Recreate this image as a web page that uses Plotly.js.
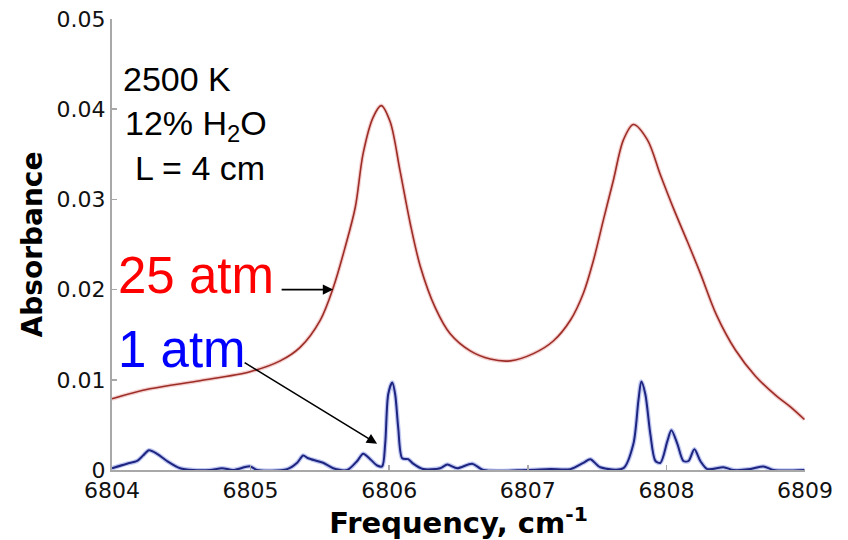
<!DOCTYPE html>
<html>
<head>
<meta charset="utf-8">
<script src="https://cdn.plot.ly/plotly-3.0.1.min.js"></script>
<style>html,body{margin:0;padding:0;background:#fff;}#chart{width:848px;height:540px;}</style>
</head>
<body>
<div id="chart"></div>
<script>
// 25 atm spectrum (frequency in cm^-1, absorbance)
const freq25 = [6804.000,6804.274,6804.635,6804.996,6805.213,6805.357,6805.502,6805.596,6805.682,6805.755,6805.812,6805.884,6805.942,6806.007,6806.079,6806.152,6806.224,6806.332,6806.440,6806.585,6806.729,6806.874,6807.040,6807.184,6807.307,6807.401,6807.473,6807.545,6807.617,6807.690,6807.762,6807.863,6807.957,6808.051,6808.152,6808.245,6808.361,6808.498,6808.643,6808.787,6808.895,6808.996];
const abs25 = [0.0079,0.0090,0.0099,0.0109,0.0121,0.0136,0.0166,0.0202,0.0247,0.0291,0.0351,0.0391,0.0404,0.0386,0.0331,0.0273,0.0226,0.0180,0.0151,0.0132,0.0123,0.0121,0.0129,0.0143,0.0166,0.0196,0.0232,0.0277,0.0321,0.0366,0.0383,0.0366,0.0327,0.0290,0.0253,0.0218,0.0172,0.0133,0.0104,0.0083,0.0070,0.0056];

// 1 atm spectrum
const freq1 = [6804.000,6804.108,6804.181,6804.224,6804.267,6804.325,6804.397,6804.491,6804.585,6804.708,6804.794,6804.874,6804.996,6805.047,6805.264,6805.336,6805.379,6805.415,6805.480,6805.523,6805.596,6805.697,6805.769,6805.812,6805.863,6805.913,6805.949,6805.971,6805.993,6806.022,6806.043,6806.065,6806.094,6806.137,6806.173,6806.245,6806.368,6806.419,6806.491,6806.599,6806.679,6806.996,6807.162,6807.307,6807.401,6807.451,6807.523,6807.690,6807.762,6807.798,6807.819,6807.848,6807.884,6807.921,6807.957,6808.007,6808.036,6808.079,6808.123,6808.159,6808.202,6808.245,6808.296,6808.412,6808.484,6808.606,6808.700,6808.773,6808.996];
const abs1 = [0.0002,0.0007,0.0010,0.0016,0.0022,0.0018,0.0010,0.0002,0.0000,0.0000,0.0002,0.0000,0.0004,0.0000,0.0001,0.0008,0.0016,0.0013,0.0010,0.0008,0.0002,0.0000,0.0010,0.0018,0.0012,0.0005,0.0004,0.0029,0.0084,0.0097,0.0084,0.0047,0.0013,0.0012,0.0007,0.0001,0.0002,0.0006,0.0002,0.0007,0.0000,0.0000,0.0001,0.0001,0.0008,0.0012,0.0003,0.0002,0.0029,0.0077,0.0098,0.0084,0.0040,0.0010,0.0008,0.0032,0.0044,0.0029,0.0010,0.0010,0.0023,0.0010,0.0001,0.0003,0.0000,0.0001,0.0004,0.0000,0.0000];

const xTicks = [6804,6805,6806,6807,6808,6809];
const xTickText = ['6804','6805','6806','6807','6808','6809'];
const yTicks = [0,0.01,0.02,0.03,0.04,0.05];
const yTickText = ['0','0.01','0.02','0.03','0.04','0.05'];

const conditionLines = ['2500 K','12% H<sub>2</sub>O','L = 4 cm'];
const label25 = '25 atm';
const label1 = '1 atm';
// arrows: [tail freq, tail abs, head freq, head abs]
const arrow25 = [6805.213,0.0200,6805.596,0.0200];
const arrow1 = [6804.946,0.0120,6805.913,0.0029];

const traces = [
  {x:freq25,y:abs25,mode:'lines',line:{color:'rgba(230,150,150,0.45)',width:4,shape:'spline',smoothing:0.9},hoverinfo:'skip',showlegend:false},
  {x:freq25,y:abs25,mode:'lines',line:{color:'#9c2d26',width:1.6,shape:'spline',smoothing:0.9},name:'25 atm',showlegend:false},
  {x:freq1,y:abs1,mode:'lines',line:{color:'rgba(130,145,230,0.5)',width:4.5,shape:'spline',smoothing:0.8},hoverinfo:'skip',showlegend:false},
  {x:freq1,y:abs1,mode:'lines',line:{color:'#1e2580',width:2,shape:'spline',smoothing:0.8},name:'1 atm',showlegend:false}
];

const txtFont = {family:'Liberation Sans, Arial, sans-serif',size:34,color:'#000'};
const annotations = [
  {xref:'paper',yref:'paper',x:0.013,y:0.867,xanchor:'left',yanchor:'middle',text:conditionLines[0],showarrow:false,font:txtFont},
  {xref:'paper',yref:'paper',x:0.016,y:0.763,xanchor:'left',yanchor:'middle',text:conditionLines[1],showarrow:false,font:txtFont},
  {xref:'paper',yref:'paper',x:0.030,y:0.670,xanchor:'left',yanchor:'middle',text:conditionLines[2],showarrow:false,font:txtFont},
  {xref:'paper',yref:'paper',x:0.006,y:0.431,xanchor:'left',yanchor:'middle',text:label25,showarrow:false,font:{family:'Liberation Sans, Arial, sans-serif',size:51,color:'#ff0000'}},
  {xref:'paper',yref:'paper',x:0.006,y:0.267,xanchor:'left',yanchor:'middle',text:label1,showarrow:false,font:{family:'Liberation Sans, Arial, sans-serif',size:51,color:'#0000ff'}},
  {xref:'x',yref:'y',axref:'x',ayref:'y',x:arrow25[2],y:arrow25[3],ax:arrow25[0],ay:arrow25[1],text:'',showarrow:true,arrowhead:2,arrowsize:1.3,arrowwidth:1.6,arrowcolor:'#000'},
  {xref:'x',yref:'y',axref:'x',ayref:'y',x:arrow1[2],y:arrow1[3],ax:arrow1[0],ay:arrow1[1],text:'',showarrow:true,arrowhead:2,arrowsize:1.3,arrowwidth:1.6,arrowcolor:'#000'}
];

const axisCommon = {showline:true,linecolor:'#a8a8a8',linewidth:2,ticks:'inside',ticklen:5,tickwidth:1.5,tickcolor:'#a8a8a8',showgrid:false,zeroline:false,mirror:false};

const layout = {
  width:848,height:540,
  margin:{l:112,r:43,t:19,b:70},
  paper_bgcolor:'#fff',plot_bgcolor:'#fff',
  showlegend:false,
  xaxis:Object.assign({},axisCommon,{range:[6804,6809],tickvals:xTicks,ticktext:xTickText,
    tickfont:{family:'DejaVu Sans, sans-serif',size:22,color:'#111'},
    title:{text:'<b>Frequency, cm<sup>-1</sup></b>',font:{family:'DejaVu Sans, sans-serif',size:29,color:'#000'},standoff:4}}),
  yaxis:Object.assign({},axisCommon,{range:[0,0.05],tickvals:yTicks,ticktext:yTickText,
    tickfont:{family:'DejaVu Sans, sans-serif',size:22,color:'#111'},
    title:{text:'<b>Absorbance</b>',font:{family:'DejaVu Sans, sans-serif',size:28,color:'#000'},standoff:6}}),
  annotations:annotations
};

Plotly.newPlot('chart',traces,layout,{displayModeBar:false,staticPlot:true});
</script>
</body>
</html>
